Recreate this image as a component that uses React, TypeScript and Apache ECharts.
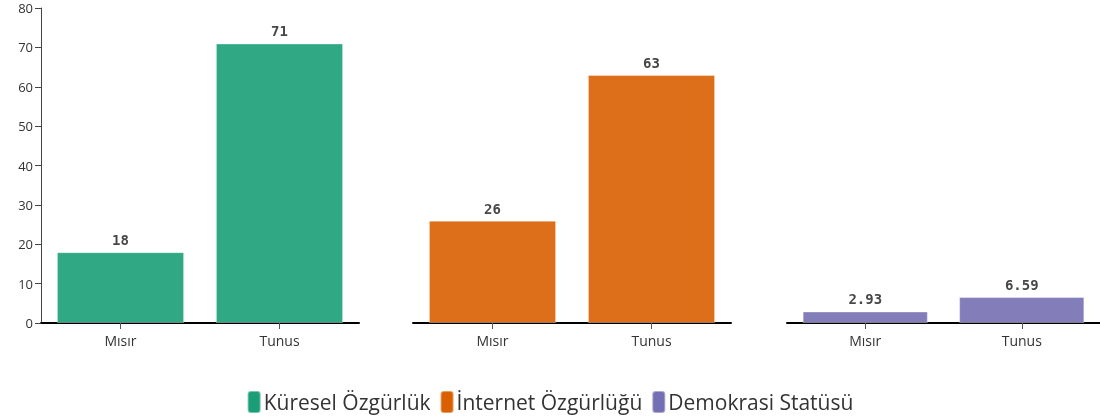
import React, { useEffect, useRef } from "react";
import * as echarts from "echarts";

const categories = ["Mısır", "Tunus"];
const seriesNames = ["Küresel Özgürlük", "İnternet Özgürlüğü", "Demokrasi Statüsü"];
const kuresel = [18, 71];
const internet = [26, 63];
const demokrasi = [2.93, 6.59];
const yTicks = [0, 10, 20, 30, 40, 50, 60, 70, 80];
const colors = ["#1b9e77", "#d95f02", "#7570b3"];

export default function App() {
  const ref = useRef<HTMLDivElement>(null);
  useEffect(() => {
    if (!ref.current) return;
    const chart = echarts.init(ref.current, null, { renderer: "svg" });
    const values = [kuresel, internet, demokrasi];
    const lefts = [41, 413, 787];
    const grids = lefts.map((l) => ({ left: l, width: 318, top: 8, height: 315 }));
    const xAxes = lefts.map((_, i) => ({
      type: "category",
      gridIndex: i,
      data: categories,
      axisLine: { show: true, lineStyle: { color: "#000", width: 2 } },
      axisTick: { show: true, alignWithLabel: true, length: 6, lineStyle: { color: "#555" } },
      axisLabel: { color: "#333", fontSize: 14, fontFamily: "Open Sans", margin: 10 },
    }));
    const yAxes = lefts.map((_, i) => ({
      type: "value",
      gridIndex: i,
      min: yTicks[0],
      max: yTicks[yTicks.length - 1],
      interval: 10,
      show: i === 0,
      splitLine: { show: false },
      axisLine: { show: i === 0, lineStyle: { color: "#444", width: 1 } },
      axisTick: { show: i === 0, length: 6, lineStyle: { color: "#444" } },
      axisLabel: { show: i === 0, color: "#333", fontSize: 13, fontFamily: "Open Sans", margin: 8 },
    }));
    const series = values.map((v, i) => ({
      type: "bar",
      name: seriesNames[i],
      xAxisIndex: i,
      yAxisIndex: i,
      data: v,
      barWidth: "80%",
      itemStyle: { color: colors[i], opacity: 0.9, borderColor: "rgba(255,255,255,0.4)", borderWidth: 1 },
      label: {
        show: true,
        position: "top",
        distance: 5,
        color: "#333",
        fontSize: 14,
        fontWeight: "bold",
        fontFamily: "DejaVu Sans Mono",
      },
    }));
    chart.setOption({
      animation: false,
      grid: grids,
      xAxis: xAxes,
      yAxis: yAxes,
      series,
      legend: {
        data: seriesNames.map((n, i) => ({ name: n, itemStyle: { color: colors[i], opacity: 1 } })),
        left: "center",
        top: 385,
        itemWidth: 13,
        itemHeight: 22,
        itemGap: 9,
        itemStyle: { borderRadius: 3 },
        textStyle: { fontSize: 21, color: "#333", fontFamily: "Open Sans", padding: [0, 0, 0, -2] },
        selectedMode: false,
      },
    });
    return () => chart.dispose();
  }, []);
  return <div ref={ref} style={{ position: "fixed", left: 0, top: 0, width: 1100, height: 419 }} />;
}
